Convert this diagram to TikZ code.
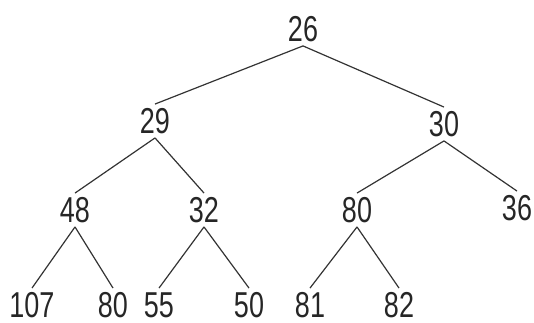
\documentclass[tikz,border=0pt]{standalone}
\usepackage{fontspec}
\setmainfont[FakeStretch=0.75]{Liberation Sans}
\usetikzlibrary{positioning}

\begin{document}
\begin{tikzpicture}[
x=0.75pt,y=-0.75pt,
num/.style={inner sep=0pt,minimum height=25pt,font=\fontsize{27}{30}\selectfont,text=black!85},
branch/.style={draw=black!80,line width=0.9pt}
]
\useasboundingbox (0,0) rectangle (534,323);
% levels of the tree
\node[num] (n26) at (303,29) {26};
\node[num] (n29) at (155,121) {29};
\node[num] (n30) at (444,124) {30};
\node[num] (n48) at (75,210) {48};
\node[num] (n32) at (204,210) {32};
\node[num] (n80a) at (357,210) {80};
\node[num] (n36) at (517,208) {36};
\node[num] (n107) at (32,305) {107};
\node[num] (n80b) at (113,305) {80};
\node[num] (n55) at (159,305) {55};
\node[num] (n50) at (249,305) {50};
\node[num] (n81) at (310,305) {81};
\node[num] (n82) at (399,305) {82};
% branches
\draw[branch] (n26.south) -- (n29.north); \draw[branch] (n26.south) -- (n30.north);
\draw[branch] (n29.south) -- (n48.north); \draw[branch] (n29.south) -- (n32.north);
\draw[branch] (n30.south) -- (n80a.north); \draw[branch] (n30.south) -- (n36.north);
\draw[branch] (n48.south) -- (n107.north); \draw[branch] (n48.south) -- (n80b.north);
\draw[branch] (n32.south) -- (n55.north); \draw[branch] (n32.south) -- (n50.north);
\draw[branch] (n80a.south) -- (n81.north); \draw[branch] (n80a.south) -- (n82.north);
\end{tikzpicture}
\end{document}
